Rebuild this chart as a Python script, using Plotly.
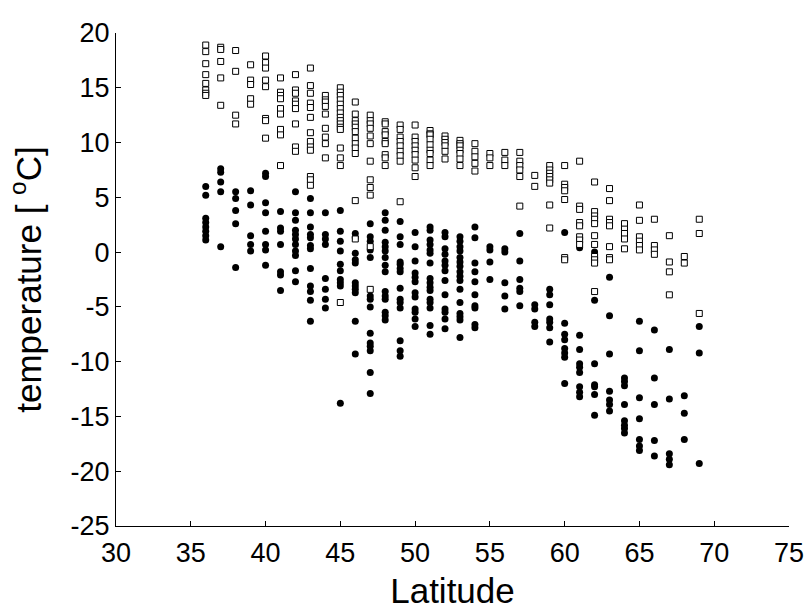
import plotly.graph_objects as go

latitudes = list(range(36, 70))

# open squares (one list per latitude, 36 .. 69)
summer_temps = [
    [18.9, 18.3, 17.2, 16.2, 15.4, 14.8, 14.5, 14.3],             # 36
    [18.7, 18.5, 17.4, 15.9, 13.4],                                 # 37
    [18.4, 16.5, 12.5, 11.7],                                       # 38
    [17.1, 15.7, 15.3, 14.0, 13.5],                                 # 39
    [17.9, 17.3, 16.8, 15.7, 15.1, 12.2, 12.0, 10.4],               # 40
    [15.9, 14.6, 14.3, 14.0, 13.1, 12.6, 11.2, 10.7, 7.9],          # 41
    [16.2, 14.8, 14.5, 13.8, 13.5, 13.1, 11.7, 9.6, 9.2],           # 42
    [16.8, 15.2, 14.5, 13.6, 13.2, 12.3, 10.9, 10.1, 9.6, 9.3, 6.9, 6.6, 6.1],  # 43
    [14.3, 13.9, 13.7, 13.3, 12.6, 11.3, 10.5, 9.9, 8.6],           # 44
    [15.0, 14.6, 14.3, 13.9, 13.5, 13.1, 12.7, 12.3, 12.0, 11.7, 11.4, 11.2, 9.5, 8.6, 7.9, -4.6],  # 45
    [13.7, 12.6, 12.0, 11.7, 11.4, 11.0, 10.4, 9.9, 9.5, 9.0, 4.7, 1.2],  # 46
    [12.5, 12.0, 11.7, 11.3, 10.6, 9.9, 8.3, 6.6, 5.9, 5.2, 0.5, -3.4],   # 47
    [11.9, 11.7, 11.0, 10.7, 10.1, 9.9, 8.9, 8.6, 7.9],             # 48
    [11.6, 11.2, 10.5, 10.1, 9.7, 9.2, 8.8, 8.3, 4.6],              # 49
    [11.6, 10.5, 10.1, 9.7, 9.3, 8.9, 8.4, 7.7, 6.9],               # 50
    [11.1, 10.8, 10.7, 10.3, 9.8, 9.3, 9.0, 8.4, 7.9],              # 51
    [10.6, 10.3, 10.0, 9.7, 9.2, 8.5],                              # 52
    [10.2, 9.9, 9.7, 9.3, 9.0, 8.5, 7.9],                           # 53
    [9.9, 9.2, 8.7, 8.1, 7.4],                                      # 54
    [9.0, 8.6, 7.9],                                                # 55
    [9.1, 8.4, 7.9],                                                # 56
    [9.1, 8.3, 7.9, 7.5, 6.9, 4.2],                                 # 57
    [7.0, 6.0],                                                     # 58
    [7.9, 7.5, 7.2, 6.9, 6.6, 6.3, 4.3, 2.2],                       # 59
    [7.9, 6.2, 5.9, 5.6, 4.8, -0.5, -0.7],                          # 60
    [8.3, 4.2, 3.9, 2.7, 2.4, 1.4, 1.1, 0.7],                       # 61
    [6.4, 3.7, 3.3, 3.0, 2.6, 1.5, 0.7, -0.4, -0.7, -1.0, -3.6],    # 62
    [5.8, 4.7, 3.0, 2.7, 2.4, 0.5, -0.5, -0.7],                     # 63
    [2.6, 2.1, 1.7, 1.2, 0.3],                                      # 64
    [4.3, 2.9, 1.4, 1.0, 0.6, 0.2],                                 # 65
    [3.0, 0.6, 0.2, -0.2],                                          # 66
    [1.5, -0.9, -1.8, -3.9],                                        # 67
    [-0.4, -1.0],                                                   # 68
    [3.0, 1.7, -5.6],                                               # 69
]

# filled circles (one list per latitude, 36 .. 69)
winter_temps = [
    [6.0, 5.2, 3.1, 2.7, 2.3, 1.9, 1.5, 1.1],                       # 36
    [7.6, 7.3, 6.4, 5.5, 0.5],                                      # 37
    [5.5, 4.9, 3.8, 2.6, -1.4],                                     # 38
    [5.6, 4.3, 1.5, 0.7, 0.1],                                      # 39
    [7.2, 6.9, 4.5, 3.6, 1.9, 0.7, 0.2, -1.2],                      # 40
    [3.7, 2.2, 1.9, 0.7, -1.8, -2.1, -3.5],                         # 41
    [5.5, 3.6, 2.9, 2.0, 1.6, 1.2, 0.7, 0.1, -0.3, -1.7, -2.7],     # 42
    [4.9, 3.6, 2.3, 1.6, 1.3, 0.6, 0.3, -1.5, -3.1, -3.6, -4.4, -6.3],  # 43
    [3.6, 1.6, 1.2, 0.7, -2.4, -3.4, -4.3, -5.1],                   # 44
    [3.8, 1.9, 1.0, 0.1, -1.1, -1.7, -2.5, -2.8, -3.1, -13.8],      # 45
    [1.7, 1.3, -0.1, -0.7, -1.0, -2.8, -3.1, -3.4, -3.7, -6.3, -9.3],  # 46
    [2.6, 1.4, 1.0, 0.2, -0.5, -4.0, -4.3, -5.0, -7.4, -8.3, -8.6, -9.0, -11.0, -12.9],  # 47
    [3.6, 2.9, 2.0, 0.9, 0.5, 0.1, -0.5, -1.2, -1.8, -3.6, -4.0, -4.3, -5.5, -5.8, -6.2],  # 48
    [2.8, 1.4, 0.7, -0.9, -1.1, -1.5, -1.8, -3.3, -4.3, -4.6, -5.1, -8.1, -9.0, -9.5],  # 49
    [1.8, 0.5, -0.8, -1.9, -2.3, -2.7, -3.7, -4.1, -5.2, -5.5, -6.1, -6.8],  # 50
    [2.3, 2.0, 1.1, 0.7, 0.2, -0.1, -1.0, -2.4, -2.8, -3.2, -3.5, -4.3, -4.6, -5.1, -6.7, -7.5],  # 51
    [1.8, 1.4, 0.3, -0.2, -0.8, -1.2, -1.7, -2.6, -3.9, -5.2, -5.5, -6.1, -7.0],  # 52
    [1.4, 1.0, 0.5, 0.1, -0.5, -0.9, -1.3, -1.8, -2.2, -2.6, -3.4, -4.6, -5.6, -5.9, -6.2, -7.8],  # 53
    [2.3, 1.3, -1.0, -1.8, -2.7, -3.9, -4.9, -5.1, -6.6, -6.9],     # 54
    [0.5, 0.2, -0.9, -2.5],                                         # 55
    [0.3, 0.0, -2.8, -4.0, -5.2],                                   # 56
    [1.7, -0.8, -2.5, -3.3, -3.6, -4.9],                            # 57
    [-4.8, -5.2, -6.4, -6.8],                                       # 58
    [-3.4, -3.9, -4.8, -6.1, -6.4, -6.9, -8.2],                     # 59
    [1.8, -6.5, -7.5, -8.0, -8.8, -9.2, -9.6, -12.0],               # 60
    [0.4, -7.6, -8.9, -10.2, -10.5, -11.0, -12.3, -12.8, -13.2],    # 61
    [0.0, -4.4, -10.2, -12.1, -12.3, -13.0, -14.9],                 # 62
    [-2.3, -5.8, -9.3, -12.7, -13.5, -13.9, -14.5],                 # 63
    [-11.5, -11.8, -12.2, -13.9, -15.4, -15.8, -16.1, -16.5],       # 64
    [-6.3, -9.0, -13.3, -15.2, -17.1, -17.7, -18.1],                # 65
    [-7.1, -11.5, -13.9, -17.2, -18.6],                             # 66
    [-8.9, -13.4, -18.4, -18.9, -19.4],                             # 67
    [-13.1, -14.7, -17.1],                                          # 68
    [-6.8, -9.2, -19.3],                                            # 69
]

x_ticks = [30, 35, 40, 45, 50, 55, 60, 65, 70, 75]
y_ticks = [-25, -20, -15, -10, -5, 0, 5, 10, 15, 20]


def flatten(groups):
    xs, ys = [], []
    for lat, vals in zip(latitudes, groups):
        for v in vals:
            xs.append(lat)
            ys.append(v)
    return xs, ys


wx, wy = flatten(winter_temps)
sx, sy = flatten(summer_temps)

fig = go.Figure()
fig.add_trace(go.Scatter(
    x=wx, y=wy, mode="markers", name="winter",
    marker=dict(symbol="circle", size=7, color="black", line=dict(width=0)),
))
fig.add_trace(go.Scatter(
    x=sx, y=sy, mode="markers", name="summer",
    marker=dict(symbol="square", size=6, color="white",
                line=dict(color="black", width=1)),
))

font_family = "Liberation Sans, Arial, sans-serif"
fig.update_layout(
    template="none",
    width=808, height=614, autosize=False,
    margin=dict(l=116, r=19, t=33, b=88, pad=0),
    plot_bgcolor="white", paper_bgcolor="white",
    showlegend=False,
    font=dict(family=font_family, color="black", size=27),
)
fig.update_xaxes(
    range=[30, 75], tickvals=x_ticks, ticktext=[str(v) for v in x_ticks],
    showline=True, linecolor="black", linewidth=1, mirror=False,
    ticks="inside", ticklen=5, tickcolor="black", tickwidth=1,
    showgrid=False, zeroline=False, automargin=False,
    tickfont=dict(size=27, family=font_family), ticklabelstandoff=3,
    title=dict(text="Latitude", font=dict(size=35, family=font_family), standoff=11),
)
fig.update_yaxes(
    range=[-25, 20], tickvals=y_ticks, ticktext=[str(v) for v in y_ticks],
    showline=True, linecolor="black", linewidth=1, mirror=False,
    ticks="inside", ticklen=5, tickcolor="black", tickwidth=1,
    showgrid=False, zeroline=False, automargin=False,
    tickfont=dict(size=27, family=font_family),
    title=dict(text="temperature [ <sup>o</sup>C]", font=dict(size=35, family=font_family), standoff=18),
)

# remove the browser's default 8 px body margin so the 808x614 figure fills the window
fig.write_html(
    "out.html",
    config={"displayModeBar": False},
    post_script="document.body.style.margin='0';document.body.style.overflow='hidden';",
)
